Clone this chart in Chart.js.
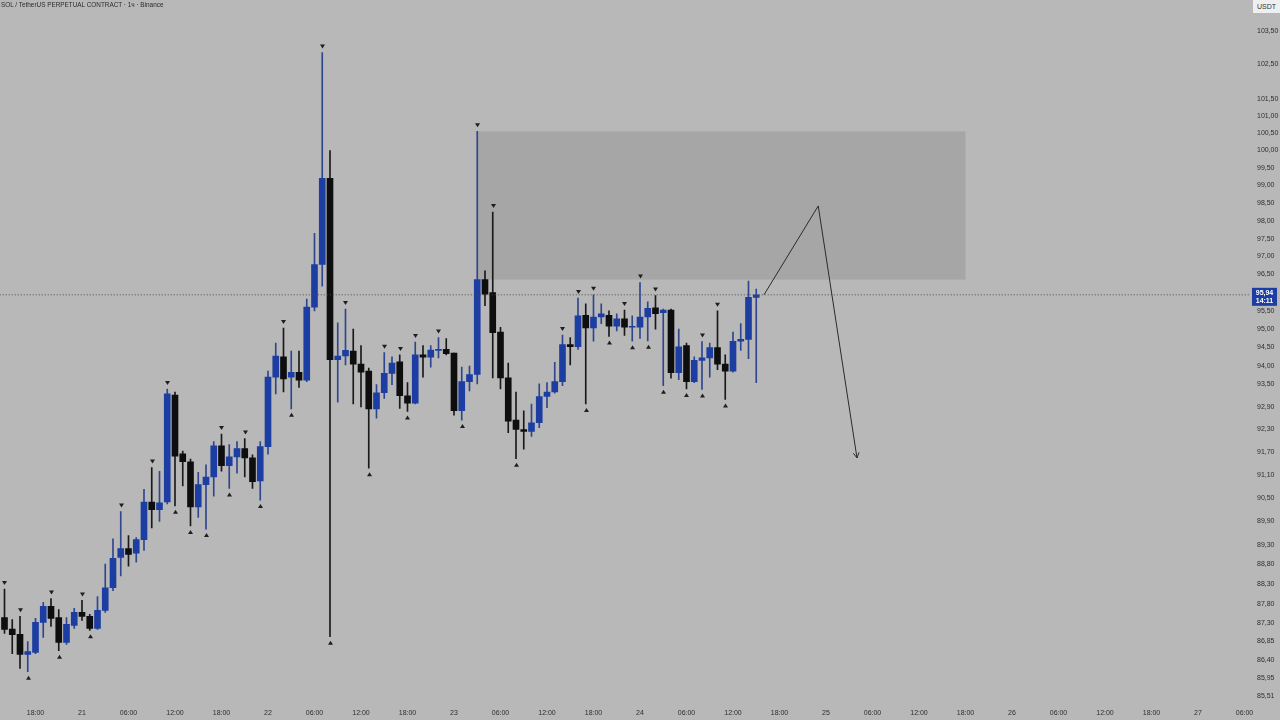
<!DOCTYPE html>
<html lang="en">
<head>
<meta charset="UTF-8">
<title>SOL / TetherUS 1h</title>
<script src="https://cdn.jsdelivr.net/npm/chart.js@4.4.1/dist/chart.umd.min.js"></script>
<style>
  body { margin: 0; background: #b8b8b8; }
  #wrap { position: relative; width: 1280px; height: 720px; background: #b8b8b8; overflow: hidden; }
  canvas { display: block; }
  .title { position: absolute; left: 1px; top: 1px; font: 6.4px "Liberation Sans", Arial, sans-serif; color: #2b2b2b; }
  .unit { position: absolute; right: 0; top: 0; width: 27px; height: 13px; background: #efefef; font: 7px "Liberation Sans", Arial, sans-serif; color: #333; text-align: center; line-height: 13px; }
</style>
</head>
<body>
<div id="wrap">
  <canvas id="chart" width="1280" height="720"></canvas>
  <div class="title">SOL / TetherUS PERPETUAL CONTRACT · 1ч · Binance</div>
  <div class="unit">USDT</div>
</div>

<script>
// hours relative to 24 00:00, one candle per hour (20th 14:00 .. 24th 15:00)
const hours = [-82,-81,-80,-79,-78,-77,-76,-75,-74,-73,
  -72,-71,-70,-69,-68,-67,-66,-65,-64,-63,
  -62,-61,-60,-59,-58,-57,-56,-55,-54,-53,
  -52,-51,-50,-49,-48,-47,-46,-45,-44,-43,
  -42,-41,-40,-39,-38,-37,-36,-35,-34,-33,
  -32,-31,-30,-29,-28,-27,-26,-25,-24,-23,
  -22,-21,-20,-19,-18,-17,-16,-15,-14,-13,
  -12,-11,-10,-9,-8,-7,-6,-5,-4,-3,
  -2,-1,0,1,2,3,4,5,6,7,
  8,9,10,11,12,13,14,15];

const open = [87.45,87.16,87.03,86.53,86.58,87.33,87.73,87.45,86.83,87.25,
  87.58,87.48,87.18,87.63,88.20,88.97,89.20,89.08,89.43,90.40,
  90.20,90.40,93.22,91.66,91.45,90.27,90.85,91.05,91.87,91.35,
  91.58,91.80,91.55,90.95,91.85,93.70,94.25,93.70,93.83,93.62,
  95.60,96.78,99.20,94.17,94.27,94.40,94.05,93.86,92.85,93.28,
  93.80,94.11,93.20,93.00,94.30,94.24,94.42,94.45,94.35,92.80,
  93.58,93.77,96.36,96.00,94.92,93.68,92.55,92.30,92.25,92.48,
  93.18,93.30,93.58,94.58,94.52,95.38,95.03,95.33,95.38,95.08,
  95.28,95.05,95.05,95.33,95.58,95.45,95.52,93.82,94.55,93.58,
  94.15,94.22,94.50,94.05,93.86,94.67,94.72,95.87];

const high = [88.17,87.40,87.48,86.85,87.43,87.83,87.93,87.65,87.45,87.68,
  87.88,87.53,87.98,88.80,89.45,90.15,89.53,89.48,90.73,91.30,
  91.20,93.38,93.30,91.73,91.52,91.17,91.37,91.98,92.18,91.90,
  91.98,92.06,91.63,91.98,93.86,94.62,95.03,94.40,94.40,95.82,
  97.65,102.85,100.00,95.17,95.55,95.00,94.55,93.94,93.50,94.36,
  94.25,94.30,93.55,94.65,94.55,94.55,94.77,94.74,94.35,93.97,
  94.00,100.55,96.60,98.25,95.05,94.08,93.30,92.80,92.98,93.52,
  93.55,94.10,94.84,94.77,95.85,95.69,95.94,95.69,95.50,95.42,
  95.52,95.36,96.28,95.75,95.92,95.55,95.55,95.00,94.62,94.25,
  94.66,94.62,95.50,94.30,94.92,95.15,96.32,96.10];

const low = [87.05,86.55,86.18,86.10,86.55,86.95,87.23,86.62,86.78,87.18,
  87.38,87.13,87.15,87.58,88.13,88.50,88.75,88.85,89.15,89.73,
  89.90,90.35,90.30,90.82,89.78,90.00,89.70,90.55,91.20,90.75,
  91.15,91.05,90.75,90.45,91.65,93.25,93.30,92.85,93.42,93.58,
  95.50,96.18,86.97,93.03,94.03,92.98,92.90,91.28,92.60,93.13,
  93.50,92.86,92.78,92.98,93.70,93.97,94.22,94.30,92.68,92.55,
  93.33,93.52,95.64,93.68,93.38,92.22,91.53,91.78,92.12,92.35,
  92.88,93.27,93.47,94.03,94.45,92.98,94.67,95.15,94.80,94.95,
  94.83,94.67,94.75,94.68,95.00,93.47,93.67,93.63,93.38,93.55,
  93.37,93.70,93.90,93.10,93.83,94.42,94.20,93.55];

const close = [87.15,87.02,86.53,86.60,87.33,87.73,87.43,86.83,87.28,87.58,
  87.48,87.18,87.63,88.20,88.95,89.20,89.05,89.43,90.40,90.20,
  90.38,93.25,91.60,91.45,90.27,90.85,91.05,91.87,91.35,91.58,
  91.80,91.55,90.93,91.85,93.70,94.27,93.65,93.83,93.62,95.60,
  96.78,99.20,94.17,94.27,94.42,94.05,93.83,92.85,93.28,93.80,
  94.08,93.20,93.00,94.30,94.24,94.43,94.45,94.33,92.80,93.58,
  93.77,96.36,95.96,94.90,93.68,92.52,92.30,92.25,92.48,93.18,
  93.30,93.58,94.58,94.52,95.36,95.03,95.33,95.42,95.08,95.28,
  95.05,95.07,95.33,95.57,95.42,95.52,93.82,94.52,93.58,94.15,
  94.22,94.50,94.05,93.86,94.67,94.72,95.87,95.94];

// pivot marks (hours)
const pivotHighs = [-82,-80,-76,-72,-67,-63,-61,-54,-51,-46,-41,-38,-33,-31,-29,-26,-21,-19,-10,-8,-6,-2,0,2,8,10];
const pivotLows = [-79,-75,-71,-60,-58,-56,-53,-49,-45,-40,-35,-30,-23,-16,-7,-4,-1,1,3,6,8,11];

// supply zone and projected path
const zoneHours = [-21, 42];
const zonePrices = [100.55, 96.36];
const pathHours = [16, 23, 28];
const pathPrices = [95.94, 98.42, 91.55];

const lastPrice = 95.94;
const countdown = '14:11';

const yTicks = [103.5,102.5,101.5,101,100.5,100,99.5,99,98.5,98,97.5,97,96.5,95.5,95,94.5,94,93.5,92.9,92.3,91.7,91.1,90.5,89.9,89.3,88.8,88.3,87.8,87.3,86.85,86.4,85.95,85.51];
const xTickHours = [-78,-72,-66,-60,-54,-48,-42,-36,-30,-24,-18,-12,-6,0,6,12,18,24,30,36,42,48,54,60,66,72,78];
const xTickLabels = ['18:00','21','06:00','12:00','18:00','22','06:00','12:00','18:00','23','06:00','12:00','18:00','24',
  '06:00','12:00','18:00','25','06:00','12:00','18:00','26','06:00','12:00','18:00','27','06:00'];

const UP = '#1c3ea3', DOWN = '#0e0e0e';
const isUp = close.map((c, i) => c >= open[i]);

const overlay = {
  id: 'overlay',
  beforeDatasetsDraw(chart) {
    const { ctx, scales: { x, y } } = chart;
    const x0 = x.getPixelForValue(zoneHours[0]), x1 = x.getPixelForValue(zoneHours[1]);
    const y0 = y.getPixelForValue(zonePrices[0]), y1 = y.getPixelForValue(zonePrices[1]);
    ctx.save();
    ctx.fillStyle = '#a6a6a6';
    ctx.fillRect(x0, y0, x1 - x0, y1 - y0);
    ctx.restore();
  },
  afterDatasetsDraw(chart) {
    const { ctx, scales: { x, y }, chartArea } = chart;
    ctx.save();
    ctx.fillStyle = '#1e1e1e';
    pivotHighs.forEach(t => {
      const i = hours.indexOf(t);
      const px = Math.round(x.getPixelForValue(t)) + 0.5, py = y.getPixelForValue(high[i]) - 6;
      ctx.beginPath();
      ctx.moveTo(px - 2.5, py - 2); ctx.lineTo(px + 2.5, py - 2); ctx.lineTo(px, py + 2);
      ctx.closePath(); ctx.fill();
    });
    pivotLows.forEach(t => {
      const i = hours.indexOf(t);
      const px = Math.round(x.getPixelForValue(t)) + 0.5, py = y.getPixelForValue(low[i]) + 6;
      ctx.beginPath();
      ctx.moveTo(px - 2.5, py + 2); ctx.lineTo(px + 2.5, py + 2); ctx.lineTo(px, py - 2);
      ctx.closePath(); ctx.fill();
    });

    // arrow head at end of projected path
    const n = pathHours.length;
    const ex = x.getPixelForValue(pathHours[n - 1]), ey = y.getPixelForValue(pathPrices[n - 1]);
    const sx = x.getPixelForValue(pathHours[n - 2]), sy = y.getPixelForValue(pathPrices[n - 2]);
    const a = Math.atan2(ey - sy, ex - sx);
    ctx.strokeStyle = '#2b2b2b';
    ctx.lineWidth = 1;
    ctx.beginPath();
    ctx.moveTo(ex - 6 * Math.cos(a - 0.5), ey - 6 * Math.sin(a - 0.5));
    ctx.lineTo(ex, ey);
    ctx.lineTo(ex - 6 * Math.cos(a + 0.5), ey - 6 * Math.sin(a + 0.5));
    ctx.stroke();

    // last price label on the axis
    const ly = y.getPixelForValue(lastPrice);
    ctx.fillStyle = '#1c3ea3';
    ctx.fillRect(chartArea.right + 2, ly - 7, 25, 18);
    ctx.fillStyle = '#ffffff';
    ctx.font = 'bold 7px "Liberation Sans", Arial, sans-serif';
    ctx.textAlign = 'center';
    ctx.textBaseline = 'middle';
    ctx.fillText(lastPrice.toFixed(2).replace('.', ','), chartArea.right + 14.5, ly - 2);
    ctx.fillText(countdown, chartArea.right + 14.5, ly + 6);
    ctx.restore();
  }
};

new Chart(document.getElementById('chart'), {
  type: 'bar',
  data: {
    datasets: [
      {
        label: 'wick',
        data: hours.map((t, i) => ({ x: t, y: [low[i], high[i]] })),
        backgroundColor: isUp.map(u => u ? '#2f468f' : '#1a1a1a'),
        barThickness: 1,
        grouped: false,
        order: 3
      },
      {
        label: 'body',
        data: hours.map((t, i) => ({ x: t, y: [open[i], close[i]] })),
        backgroundColor: isUp.map(u => u ? UP : DOWN),
        barThickness: 6,
        minBarLength: 1,
        grouped: false,
        order: 2
      },
      {
        type: 'line',
        label: 'last',
        data: [{ x: -83, y: lastPrice }, { x: 79, y: lastPrice }],
        borderColor: '#4a4a4a',
        borderWidth: 1,
        borderDash: [1, 2],
        pointRadius: 0,
        order: 1
      },
      {
        type: 'line',
        label: 'path',
        data: pathHours.map((t, i) => ({ x: t, y: pathPrices[i] })),
        borderColor: '#2b2b2b',
        borderWidth: 1,
        pointRadius: 0,
        tension: 0,
        order: 0
      }
    ]
  },
  options: {
    responsive: false,
    devicePixelRatio: 1,
    animation: false,
    layout: { padding: 0 },
    plugins: { legend: { display: false }, tooltip: { enabled: false } },
    scales: {
      x: {
        type: 'linear',
        min: -82.58,
        max: 78.71,
        offset: false,
        grid: { display: false, drawTicks: false },
        border: { display: false },
        afterBuildTicks: s => { s.ticks = xTickHours.map(v => ({ value: v })); },
        afterFit: s => { s.height = 17; },
        ticks: {
          autoSkip: false,
          maxRotation: 0,
          padding: 6,
          color: '#2e2e2e',
          font: { size: 7, family: '"Liberation Sans", Arial, sans-serif' },
          callback: (v, i) => xTickLabels[i]
        }
      },
      y: {
        type: 'logarithmic',
        position: 'right',
        min: 85.33,
        max: 104.08,
        grid: { display: false, drawTicks: false },
        border: { display: false },
        afterBuildTicks: s => { s.ticks = yTicks.map(v => ({ value: v })); },
        afterFit: s => { s.width = 30; },
        ticks: {
          autoSkip: false,
          padding: 7,
          color: '#2e2e2e',
          font: { size: 7, family: '"Liberation Sans", Arial, sans-serif' },
          callback: v => Number(v).toFixed(2).replace('.', ',')
        }
      }
    }
  },
  plugins: [overlay]
});
</script>
</body>
</html>
